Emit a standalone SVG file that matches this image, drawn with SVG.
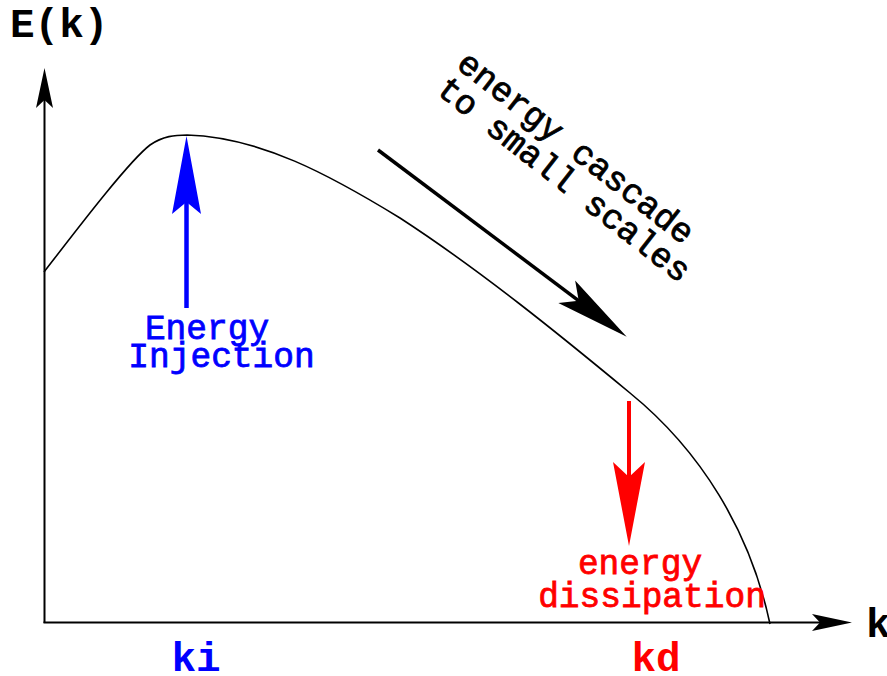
<svg xmlns="http://www.w3.org/2000/svg" width="887" height="676" viewBox="0 0 887 676">
<style>
.mono{font-family:"Liberation Mono","Courier New",monospace;}
.lbl{font-size:34.5px;stroke-width:0.8px;}
.ax{font-size:41px;font-weight:bold;}
.axis{stroke:#000;stroke-width:2;fill:none;}
</style>
<rect width="887" height="676" fill="#fff"/>
<g id="connectors">
  <g id="y-axis">
    <line class="axis" x1="44.5" y1="623" x2="44.5" y2="98"/>
    <polygon points="44.5,68 53,108 44.5,100 36,108" fill="#000"/>
  </g>
  <g id="x-axis">
    <line class="axis" x1="43.5" y1="622.5" x2="822" y2="622.5"/>
    <polygon points="852,622.5 812,631 820,622.5 812,614" fill="#000"/>
  </g>
  <path id="curve" d="M44,272 C75,232 128,162 150,145 C163,136 175,135 187,135 C260,137 330,175 400,218 C480,270 560,335 630,393 C700,450 750,530 770,624" fill="none" stroke="#000" stroke-width="1.6"/>
  <g id="cascade-arrow" transform="translate(378,150) rotate(36.9)">
    <line x1="0" y1="0" x2="252" y2="0" stroke="#000" stroke-width="3.5"/>
    <polygon points="311,0 236,-14 251,0 236,14" fill="#000"/>
  </g>
  <g id="injection-arrow">
    <line x1="186.5" y1="308" x2="186.5" y2="195" stroke="#0000ff" stroke-width="4.5"/>
    <polygon points="186.5,136 201,214 186.5,202 172,214" fill="#0000ff"/>
  </g>
  <g id="dissipation-arrow">
    <line x1="629" y1="401" x2="629" y2="482" stroke="#ff0000" stroke-width="4"/>
    <polygon points="629,546 645,462 629,477 613,462" fill="#ff0000"/>
  </g>
</g>
<g id="labels">
  <text class="mono ax" x="10" y="37" fill="#000">E(k)</text>
  <text class="mono ax" x="866" y="637" fill="#000">k</text>
  <text class="mono ax" x="196" y="671" fill="#0000ff" text-anchor="middle">ki</text>
  <text class="mono ax" x="656" y="671" fill="#ff0000" text-anchor="middle">kd</text>
</g>
<g id="injection-label" class="mono lbl" fill="#0000ff" stroke="#0000ff" text-anchor="middle">
  <text x="207" y="339">Energy</text>
  <text x="221.5" y="367">Injection</text>
</g>
<g id="dissipation-label" class="mono lbl" fill="#ff0000" stroke="#ff0000" text-anchor="middle">
  <text x="640" y="574">energy</text>
  <text x="652" y="607">dissipation</text>
</g>
<g id="cascade-label" class="mono lbl" fill="#000" stroke="#000">
  <text transform="translate(455,67) rotate(38)">energy cascade</text>
  <text transform="translate(435,92.5) rotate(38)">to small scales</text>
</g>
</svg>
